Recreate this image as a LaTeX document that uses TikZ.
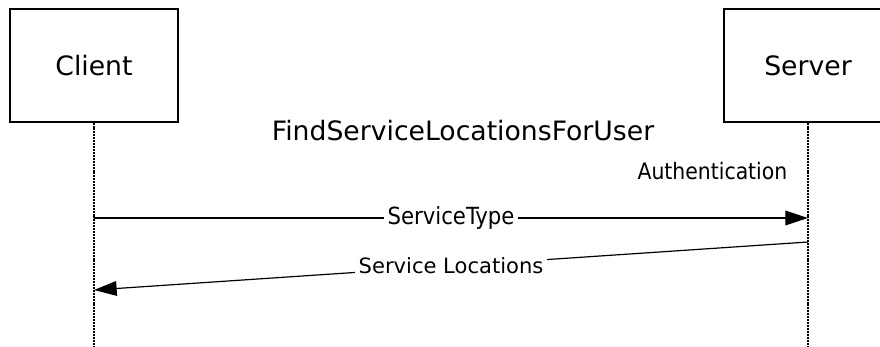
\documentclass[tikz,border=0pt]{standalone}
\usepackage{fontspec}
\setmainfont{DejaVu Sans}
\newfontfamily\condfont{DejaVu Sans Condensed}
\usetikzlibrary{arrows.meta,positioning}
\definecolor{LineClr}{rgb}{0,0,0}

\begin{document}
\begin{tikzpicture}[x=0.75pt,y=-0.75pt,
  actor/.style={draw=LineClr,line width=0.9pt,minimum width=126pt,minimum height=84.75pt,
    inner sep=0pt,font=\fontsize{20}{22}\selectfont},
  lifeline/.style={draw=LineClr,line width=0.9pt,dash pattern=on 1.5pt off 0.7pt},
  msg/.style={draw=LineClr,line width=0.9pt,-{Triangle[length=17pt,width=11pt]}},
  msglabel/.style={fill=white,inner sep=3pt,font=\condfont\fontsize{17.7}{20}\selectfont}]
\useasboundingbox (0,0) rectangle (880,346);

% actors
\node[actor] (client) at (94,65.5) {Client};
\node[actor] (server) at (808,65.5) {Server};

% lifelines
\coordinate (clientEnd) at (94,346);
\coordinate (serverEnd) at (808,346);
\draw[lifeline] (client.south) -- (clientEnd);
\draw[lifeline] (server.south) -- (serverEnd);

% operation
\node[font=\fontsize{20}{22}\selectfont] (op) at (463,131) {FindServiceLocationsForUser};
\node[font=\condfont\fontsize{17}{20}\selectfont,anchor=east] (auth) at (792,171) {Authentication};

% messages
\coordinate (reqStart) at (94,218);
\coordinate (reqEnd) at (808,218);
\coordinate (resStart) at (808,242);
\coordinate (resEnd) at (94,290);
\draw[msg] (reqStart) -- node[msglabel] (reqLabel) {ServiceType} (reqEnd);
\draw[msg] (resStart) -- node[msglabel,font=\fontsize{15.8}{18}\selectfont] (resLabel) {Service Locations} (resEnd);

\end{tikzpicture}
\end{document}
